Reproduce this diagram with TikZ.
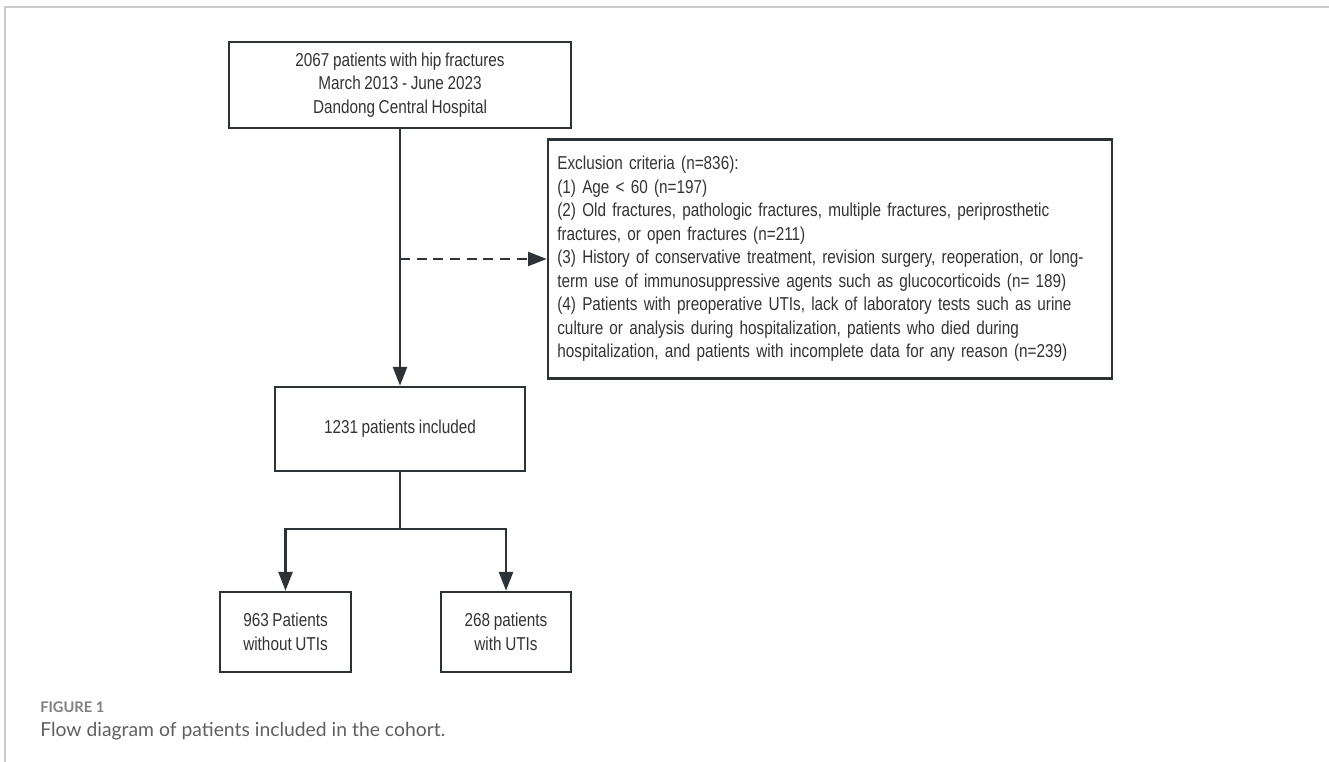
\documentclass[tikz,border=0pt]{standalone}
\usepackage{fontspec}
\setmainfont{Liberation Sans}[FakeStretch=0.82,WordSpace=0.85]
\newfontfamily\capfont{Lato}[BoldFont={Lato Bold}]
\usetikzlibrary{arrows.meta}
\definecolor{linegray}{RGB}{45,50,55}
\definecolor{textgray}{RGB}{51,51,51}
\definecolor{framegray}{RGB}{204,204,204}
\definecolor{capgray}{RGB}{95,95,95}
\begin{document}
\begin{tikzpicture}[x=0.75pt,y=-0.75pt,
    box/.style={draw=linegray,line width=2pt,text=textgray,align=center,inner sep=0pt,
      font=\fontsize{14pt}{17.6pt}\selectfont},
    flow/.style={draw=linegray,line width=1.7pt,-{Triangle[length=14pt,width=10.5pt]}},
  ]
  \useasboundingbox (0,0) rectangle (1329,762);
  \draw[framegray,line width=1.5pt] (1329,7) -- (5,7) -- (5,762);
  \draw
    (400,85) node[box,minimum width=256.5pt,minimum height=64.5pt] (hip)
      {2067 patients with hip fractures\\March 2013 - June 2023\\Dandong Central Hospital}
    (830,259) node[box,minimum width=423pt,minimum height=179.25pt,text width=409pt,
      inner xsep=7pt,align=left] (excl)
      {Exclusion criteria (n=836):\\
       (1) Age < 60 (n=197)\\
       (2) Old fractures, pathologic fractures, multiple fractures, periprosthetic\\
       fractures, or open fractures (n=211)\\
       (3) History of conservative treatment, revision surgery, reoperation, or long-\\
       term use of immunosuppressive agents such as glucocorticoids (n= 189)\\
       (4) Patients with preoperative UTIs, lack of laboratory tests such as urine\\
       culture or analysis during hospitalization, patients who died during\\
       hospitalization, and patients with incomplete data for any reason (n=239)}
    (400,429) node[box,minimum width=187.5pt,minimum height=63pt] (incl)
      {1231 patients included}
    (285.5,632) node[box,minimum width=98.25pt,minimum height=60pt] (noUTI)
      {963 Patients\\without UTIs}
    (506,632) node[box,minimum width=97.5pt,minimum height=60pt] (UTI)
      {268 patients\\with UTIs};
  \coordinate (tap) at (400,259);
  \coordinate (split) at (400,529);
  \begin{scope}[flow]
    \draw (hip) -- (incl);
    \draw[dash pattern=on 7.5pt off 5pt] (tap) -- (excl);
    \draw[-] (incl) -- (split);
    \draw (split) -| (noUTI);
    \draw (split) -| (UTI);
  \end{scope}
  \node[anchor=base west,inner sep=0pt,text=capgray!80,
    font=\capfont\bfseries\fontsize{11pt}{13pt}\selectfont] (fig) at (40,712.7) {FIGURE 1};
  \node[anchor=base west,inner sep=0pt,text=capgray,
    font=\capfont\fontsize{14.5pt}{17pt}\selectfont] (cap) at (40,737)
    {Flow diagram of patients included in the cohort.};
\end{tikzpicture}
\end{document}
